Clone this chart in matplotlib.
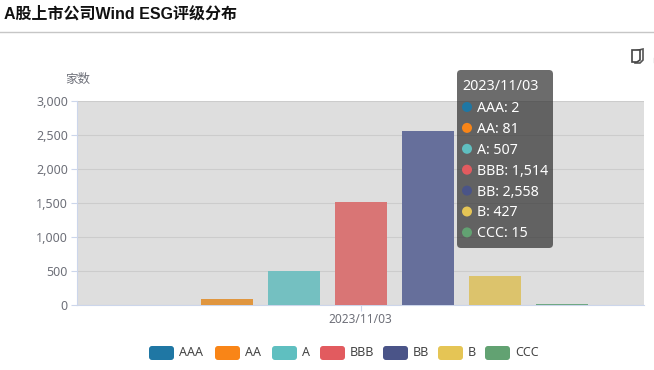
import matplotlib
matplotlib.use("Agg")
import matplotlib.pyplot as plt
from matplotlib.patches import FancyBboxPatch, Circle, Polygon

W, H = 654, 370

date_label = "2023/11/03"
ratings = ["AAA", "AA", "A", "BBB", "BB", "B", "CCC"]
counts = [2, 81, 507, 1514, 2558, 427, 15]
colors = ["#1f77a4", "#f98517", "#5fbfc0", "#e25b5f", "#4a5488", "#e5c555", "#62a272"]
bar_colors = ["#2a7ba5", "#e0963f", "#74c0c1", "#d97575", "#666f9b", "#dcc36c", "#6fa883"]
y_ticks = [0, 500, 1000, 1500, 2000, 2500, 3000]
title = "A股上市公司Wind ESG评级分布"
y_name = "家数"

plt.rcParams['font.family'] = ['Noto Sans', 'Noto Sans CJK SC', 'DejaVu Sans']

fig = plt.figure(figsize=(W / 100, H / 100), dpi=100, facecolor="white")

# plot area, pixel box of the reference
left, right, top, bottom = 77, 644, 101, 305
ax = fig.add_axes([left / W, 1 - bottom / H, (right - left) / W, (bottom - top) / H])
ax.set_facecolor("#dedede")

pitch = 67 / (right - left)
bar_w = 52 / (right - left)
for i, (val, col) in enumerate(zip(counts, bar_colors)):
    ax.bar((i - 3) * pitch, val, width=bar_w, color=col, zorder=3)

ax.set_xlim(-0.5, 0.5)
ax.set_ylim(0, 3000)
ax.set_xticks([0])
ax.set_xticklabels([date_label], fontsize=8.6, color="#6e7079")
ax.set_yticks(y_ticks)
ax.set_yticklabels([f"{v:,}" for v in y_ticks], fontsize=9, color="#6e7079")
ax.tick_params(axis="x", length=4, width=0.8, color="#ccd6eb", pad=1.5)
ax.tick_params(axis="y", length=4, width=0.8, color="#ccd6eb", pad=2.5)
ax.grid(axis="y", color="#cccccc", linewidth=0.8, zorder=1)
ax.set_axisbelow(True)
for side in ["top", "right"]:
    ax.spines[side].set_visible(False)
for side in ["left", "bottom"]:
    ax.spines[side].set_color("#ccd6eb")
    ax.spines[side].set_linewidth(0.8)

# overlay in pixel coordinates for header, legend, tooltip
ov = fig.add_axes([0, 0, 1, 1], facecolor="none")
ov.set_xlim(0, W)
ov.set_ylim(H, 0)
ov.axis("off")

ov.text(4, 14, title, fontsize=11.5, fontweight="bold", color="#111111", va="center",
        family=['Liberation Sans', 'Noto Sans CJK SC'])
ov.plot([0, W], [32, 32], color="#c6c6c6", linewidth=1)
ov.text(65, 79, y_name, fontsize=9, color="#6e7079", va="center")

# copy icon, next icon is cut off by the right edge
ov.add_patch(Polygon([[635, 51], [643, 49], [643, 60], [640, 63], [635, 63]], closed=True,
                     fc="white", ec="#555555", lw=1.2))
ov.add_patch(Polygon([[632, 50], [640, 50], [640, 60], [637, 62], [632, 62]], closed=True,
                     fc="white", ec="#444444", lw=1.2))
ov.plot([653.5, 653.5], [58, 62], color="#bbbbbb", linewidth=1)

# legend
leg_x = [149, 215, 272, 320, 383, 438, 485]
for x, name, col in zip(leg_x, ratings, colors):
    ov.add_patch(FancyBboxPatch((x, 346), 25, 14, boxstyle="round,pad=0,rounding_size=3",
                                fc=col, ec="none"))
    ov.text(x + 30, 352.5, name, fontsize=9, color="#444444", va="center")

# tooltip
ov.add_patch(FancyBboxPatch((457, 70), 96, 178, boxstyle="round,pad=0,rounding_size=4",
                            fc=(0.2, 0.2, 0.2), ec="none", alpha=0.72, zorder=5))
ov.text(462, 86.5, date_label, fontsize=10.3, color="white", va="center", zorder=6)
for i, (name, val, col) in enumerate(zip(ratings, counts, colors)):
    y = 107 + i * 20.9
    ov.add_patch(Circle((467, y), 5, fc=col, ec="none", zorder=6))
    ov.text(477, y + 1.5, f"{name}: {val:,}", fontsize=10.2, color="white", va="center", zorder=6)

fig.savefig("out.png", dpi=100)
